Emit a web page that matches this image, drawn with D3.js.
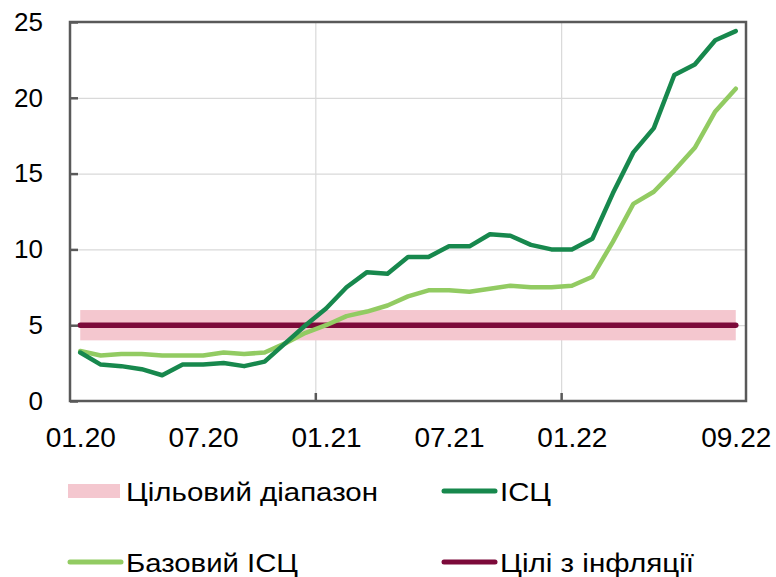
<!DOCTYPE html>
<html>
<head>
<meta charset="utf-8">
<script src="https://cdn.jsdelivr.net/npm/d3@7"></script>
<style>
  html, body { margin: 0; padding: 0; background: #fff; }
  svg { display: block; font-family: "Liberation Sans", Arial, sans-serif; }
</style>
</head>
<body>
<svg id="chart" width="776" height="577"></svg>
<script>
// Monthly categories, 01.20 … 09.22
const months = [
  "01.20","02.20","03.20","04.20","05.20","06.20","07.20","08.20","09.20","10.20","11.20","12.20",
  "01.21","02.21","03.21","04.21","05.21","06.21","07.21","08.21","09.21","10.21","11.21","12.21",
  "01.22","02.22","03.22","04.22","05.22","06.22","07.22","08.22","09.22"
];
// Consumer price index, % y/y
const cpi = [
  3.2, 2.4, 2.3, 2.1, 1.7, 2.4, 2.4, 2.5, 2.3, 2.6, 3.8, 5.0,
  6.1, 7.5, 8.5, 8.4, 9.5, 9.5, 10.2, 10.2, 11.0, 10.9, 10.3, 10.0,
  10.0, 10.7, 13.7, 16.4, 18.0, 21.5, 22.2, 23.8, 24.4
];
// Core consumer price index, % y/y
const coreCpi = [
  3.3, 3.0, 3.1, 3.1, 3.0, 3.0, 3.0, 3.2, 3.1, 3.2, 3.8, 4.5,
  5.0, 5.6, 5.9, 6.3, 6.9, 7.3, 7.3, 7.2, 7.4, 7.6, 7.5, 7.5,
  7.6, 8.2, 10.5, 13.0, 13.8, 15.2, 16.7, 19.1, 20.6
];
// Inflation target and its tolerance band
const inflationTarget = 5;
const targetBand = [4, 6];

const yTicks = [0, 5, 10, 15, 20, 25];
const xTickLabels = ["01.20", "07.20", "01.21", "07.21", "01.22", "09.22"];
const yearStarts = ["01.21", "01.22"];

const legendItems = [
  { label: "Цільовий діапазон", type: "band" },
  { label: "ІСЦ", type: "cpi" },
  { label: "Базовий ІСЦ", type: "core" },
  { label: "Цілі з інфляції", type: "target" }
];

const colors = {
  band: "#F4C7CF",
  cpi: "#17884D",
  core: "#92CB62",
  target: "#7C0A3A",
  grid: "#D9D9D9",
  frame: "#595959"
};

const svg = d3.select("#chart");
const plot = { left: 70, right: 746, top: 22, bottom: 401 };

const x = d3.scaleBand().domain(months).range([plot.left, plot.right]).padding(0);
const xc = m => x(m) + x.bandwidth() / 2;
const y = d3.scaleLinear().domain([0, 25]).range([plot.bottom, plot.top]);

// horizontal grid
svg.append("g")
  .attr("transform", `translate(${plot.left},0)`)
  .call(d3.axisLeft(y).tickValues(yTicks.slice(1, -1)).tickSize(-(plot.right - plot.left)).tickFormat(""))
  .call(g => g.select(".domain").remove())
  .call(g => g.selectAll("line").attr("stroke", colors.grid).attr("stroke-width", 1.2));

// vertical grid at the start of each year
svg.append("g").selectAll("line").data(yearStarts).join("line")
  .attr("x1", d => x(d)).attr("x2", d => x(d))
  .attr("y1", plot.top).attr("y2", plot.bottom)
  .attr("stroke", colors.grid).attr("stroke-width", 1.2);

// target band
const first = months[0], last = months[months.length - 1];
svg.append("rect")
  .attr("x", xc(first))
  .attr("width", xc(last) - xc(first))
  .attr("y", y(targetBand[1]))
  .attr("height", y(targetBand[0]) - y(targetBand[1]))
  .attr("fill", colors.band);

// target line
svg.append("line")
  .attr("x1", xc(first)).attr("x2", xc(last))
  .attr("y1", y(inflationTarget)).attr("y2", y(inflationTarget))
  .attr("stroke", colors.target).attr("stroke-width", 5.5).attr("stroke-linecap", "round");

const line = d3.line().x((d, i) => xc(months[i])).y(d => y(d));

svg.append("path").datum(coreCpi)
  .attr("d", line).attr("fill", "none")
  .attr("stroke", colors.core).attr("stroke-width", 4.5)
  .attr("stroke-linejoin", "round").attr("stroke-linecap", "round");

svg.append("path").datum(cpi)
  .attr("d", line).attr("fill", "none")
  .attr("stroke", colors.cpi).attr("stroke-width", 4.5)
  .attr("stroke-linejoin", "round").attr("stroke-linecap", "round");

// frame
svg.append("rect")
  .attr("x", plot.left).attr("y", plot.top)
  .attr("width", plot.right - plot.left).attr("height", plot.bottom - plot.top)
  .attr("fill", "none").attr("stroke", colors.frame).attr("stroke-width", 2.5);

// y axis
svg.append("g")
  .attr("transform", `translate(${plot.left},0)`)
  .call(d3.axisLeft(y).tickValues(yTicks).tickSize(-8).tickPadding(27))
  .call(g => g.select(".domain").remove())
  .call(g => g.selectAll("line").attr("stroke", colors.frame).attr("stroke-width", 2.5))
  .call(g => g.selectAll("text")
    .attr("fill", "#000").attr("font-size", 26)
    .attr("font-family", "Liberation Sans, Arial, sans-serif"));

// x axis labels
const xAxis = d3.axisBottom(d3.scalePoint().domain(months).range([xc(first), xc(last)]))
  .tickValues(xTickLabels).tickSize(0).tickPadding(26);
svg.append("g")
  .attr("transform", `translate(0,${plot.bottom})`)
  .call(xAxis)
  .call(g => g.select(".domain").remove())
  .call(g => g.selectAll("text")
    .attr("fill", "#000").attr("font-size", 28)
    .attr("font-family", "Liberation Sans, Arial, sans-serif"));

// x tick marks at year starts
svg.append("g").selectAll("line").data(yearStarts).join("line")
  .attr("x1", d => x(d)).attr("x2", d => x(d))
  .attr("y1", plot.bottom).attr("y2", plot.bottom - 8)
  .attr("stroke", colors.frame).attr("stroke-width", 2.5);

// legend
const legendPos = [
  { sx: 68, tx: 126, cy: 491, w: 252 },
  { sx: 442, tx: 500, cy: 491, w: 51 },
  { sx: 68, tx: 126, cy: 562, w: 172 },
  { sx: 442, tx: 500, cy: 562, w: 194 }
];
const legend = svg.append("g");
legendItems.forEach((item, i) => {
  const p = legendPos[i];
  if (item.type === "band") {
    legend.append("rect")
      .attr("x", p.sx).attr("y", p.cy - 7).attr("width", 52).attr("height", 14)
      .attr("fill", colors.band);
  } else {
    legend.append("line")
      .attr("x1", p.sx + 2).attr("x2", p.sx + 53)
      .attr("y1", p.cy).attr("y2", p.cy)
      .attr("stroke", colors[item.type]).attr("stroke-width", 5)
      .attr("stroke-linecap", "round");
  }
  legend.append("text")
    .attr("x", p.tx).attr("y", p.cy + 10)
    .attr("font-size", 26)
    .attr("textLength", p.w).attr("lengthAdjust", "spacingAndGlyphs")
    .attr("fill", "#000")
    .text(item.label);
});
</script>
</body>
</html>
